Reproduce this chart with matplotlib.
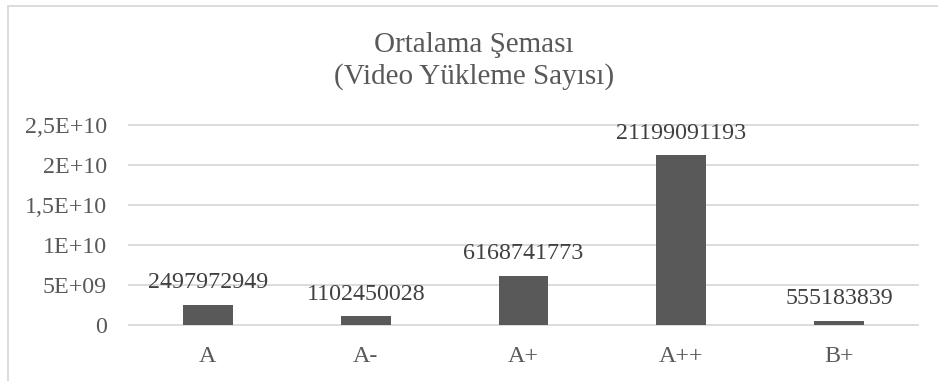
import matplotlib.pyplot as plt
from matplotlib.patches import Rectangle

plt.rcParams['font.family'] = ['Liberation Serif', 'DejaVu Serif']

categories = ['A', 'A-', 'A+', 'A++', 'B+']
values = [2497972949, 1102450028, 6168741773, 21199091193, 555183839]
ytick_vals = [0, 5e9, 1e10, 1.5e10, 2e10, 2.5e10]
ytick_labels = ['0', '5E+09', '1E+10', '1,5E+10', '2E+10', '2,5E+10']

text_color = '#595959'
bar_color = '#595959'
grid_color = '#d9d9d9'

fig = plt.figure(figsize=(9.38, 3.81), dpi=100)
ax = fig.add_axes([129 / 938, 56 / 381, 789 / 938, 200 / 381])

x = range(len(categories))
bars = ax.bar(x, values, width=0.316, color=bar_color, zorder=3)

for xi, v in zip(x, values):
    ax.annotate(str(v), (xi, v), xytext=(0, 12), textcoords='offset points',
                ha='center', va='baseline', fontsize=17.3, color='#404040')

ax.set_xlim(-0.5, len(categories) - 0.5)
ax.set_ylim(0, 2.5e10)
ax.set_yticks(ytick_vals)
ax.set_yticklabels(ytick_labels)
ax.set_xticks(list(x))
ax.set_xticklabels(categories)
ax.tick_params(axis='both', length=0, labelsize=17.3, labelcolor=text_color)
ax.tick_params(axis='y', pad=16)
ax.tick_params(axis='x', pad=15)

for s in ax.spines.values():
    s.set_visible(False)
ax.yaxis.grid(True, color=grid_color, linewidth=1.3, zorder=0)
for gl in ax.get_ygridlines():
    gl.set_clip_on(False)

fig.text(474 / 938, 1 - 61 / 381, 'Ortalama Şeması\n(Video Yükleme Sayısı)',
         ha='center', va='center', fontsize=21, color=text_color, linespacing=1.25)

# chart frame (only left and top edges visible)
fig.patches.append(Rectangle((8 / 938, -0.2), 1.2, 1.2 - 5.5 / 381,
                             transform=fig.transFigure, fill=False,
                             edgecolor=grid_color, linewidth=1.3))

fig.savefig('out.png', dpi=100)
